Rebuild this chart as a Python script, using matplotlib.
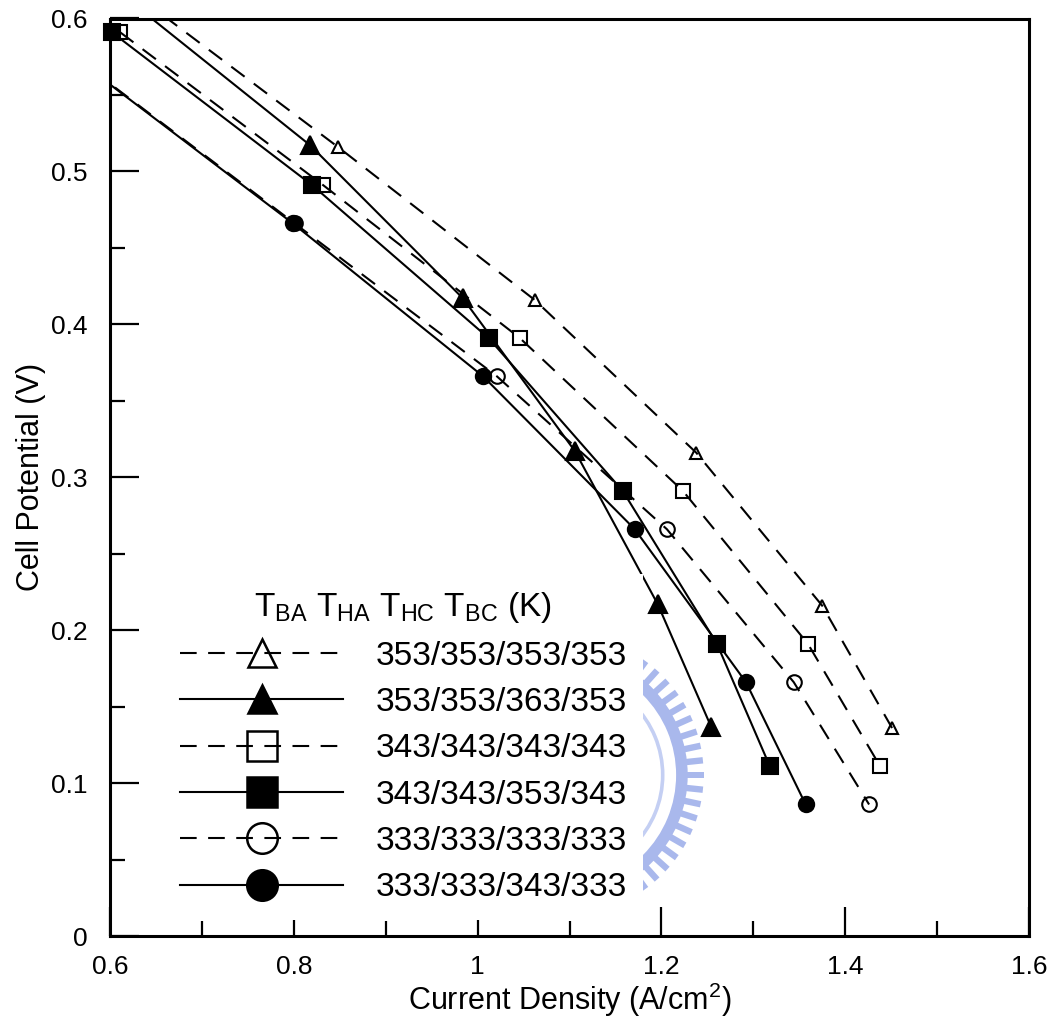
import numpy as np
import matplotlib
matplotlib.use("Agg")
import matplotlib.pyplot as plt
from matplotlib.lines import Line2D
from matplotlib.patches import Wedge, Rectangle
from matplotlib.ticker import MultipleLocator, FuncFormatter
import matplotlib.transforms as mtransforms

plt.rcParams["font.family"] = ["Liberation Sans", "DejaVu Sans"]
plt.rcParams["mathtext.fontset"] = "custom"
plt.rcParams["mathtext.rm"] = "Liberation Sans"
plt.rcParams["mathtext.it"] = "Liberation Sans:italic"
plt.rcParams["mathtext.bf"] = "Liberation Sans:bold"

# Operating temperatures T_BA/T_HA/T_HC/T_BC (K)
labels = [
    "353/353/353/353",
    "353/353/363/353",
    "343/343/343/343",
    "343/343/353/343",
    "333/333/333/333",
    "333/333/343/333",
]

# Polarization data: current density (A/cm2) vs cell potential (V)
j_353_353 = [0.627, 0.848, 1.062, 1.238, 1.375, 1.451]
v_353_353 = [0.616, 0.516, 0.416, 0.316, 0.216, 0.136]

j_353_363 = [0.610, 0.818, 0.984, 1.106, 1.196, 1.254]
v_353_363 = [0.617, 0.517, 0.417, 0.317, 0.217, 0.137]

j_343_343 = [0.611, 0.832, 1.046, 1.2235, 1.3595, 1.438]
v_343_343 = [0.591, 0.491, 0.391, 0.291, 0.191, 0.111]

j_343_353 = [0.602, 0.820, 1.012, 1.158, 1.2605, 1.318]
v_343_353 = [0.591, 0.491, 0.391, 0.291, 0.191, 0.111]

j_333_333 = [0.581, 0.801, 1.021, 1.206, 1.344, 1.426]
v_333_333 = [0.566, 0.466, 0.366, 0.266, 0.166, 0.086]

j_333_343 = [0.580, 0.799, 1.006, 1.171, 1.292, 1.357]
v_333_343 = [0.566, 0.466, 0.366, 0.266, 0.166, 0.086]

series = [
    (j_353_353, v_353_353, "dash", "^", "none", 8.5, 20),
    (j_353_363, v_353_363, "solid", "^", "black", 13.5, 20),
    (j_343_343, v_343_343, "dash", "s", "none", 10, 21),
    (j_343_353, v_343_353, "solid", "s", "black", 11, 21),
    (j_333_333, v_333_333, "dash", "o", "none", 10.5, 22),
    (j_333_343, v_333_343, "solid", "o", "black", 11, 22),
]

XMIN, XMAX, YMIN, YMAX = 0.6, 1.6, 0.0, 0.6
DASH = (0, (8, 5.5))
LW = 1.5

fig = plt.figure(figsize=(10.52, 10.26), dpi=100)

# faint emblem behind the legend
wax = fig.add_axes([418 / 1052, 1 - 920 / 1026, 290 / 1052, 290 / 1026], zorder=0)
wax.set_xlim(-1, 1)
wax.set_ylim(-1, 1)
wax.set_aspect("equal")
wax.axis("off")
emblem = "#a9b8ec"
wax.add_patch(Wedge((0, 0), 0.86, 0, 360, width=0.08, color=emblem, lw=0))
wax.add_patch(Wedge((0, 0), 0.70, 0, 360, width=0.025, color="#c4cff3", lw=0))
wax.add_patch(Wedge((0, 0), 0.55, 0, 360, width=0.10, color="#b8c5f0", lw=0))
for ang in np.arange(0, 360, 6.0):
    t = mtransforms.Affine2D().rotate_deg(ang) + wax.transData
    wax.add_patch(Rectangle((0.85, -0.022), 0.12, 0.044, color=emblem, lw=0, transform=t))

ax = fig.add_axes([110 / 1052, 1 - 936 / 1026, 919 / 1052, (936 - 18.5) / 1026], zorder=1)
ax.set_facecolor("none")

for j, v, ls, mk, fc, ms, _ in series:
    j = np.asarray(j)
    v = np.asarray(v)
    ax.plot(j, v, color="black", lw=LW, linestyle=DASH if ls == "dash" else "-",
            clip_on=True, zorder=2)
    inside = (v <= YMAX) & (j >= XMIN)
    ax.plot(j[inside], v[inside], linestyle="none", marker=mk, ms=ms,
            markerfacecolor=fc, markeredgecolor="black", markeredgewidth=1.5,
            clip_on=False, zorder=3)

ax.set_xlim(XMIN, XMAX)
ax.set_ylim(YMIN, YMAX)

fmt = FuncFormatter(lambda val, pos: f"{val:g}")
ax.xaxis.set_major_locator(MultipleLocator(0.2))
ax.xaxis.set_minor_locator(MultipleLocator(0.1))
ax.yaxis.set_major_locator(MultipleLocator(0.1))
ax.yaxis.set_minor_locator(MultipleLocator(0.05))
ax.xaxis.set_major_formatter(fmt)
ax.yaxis.set_major_formatter(fmt)

ax.tick_params(which="both", direction="in", top=False, right=False, width=1.6)
ax.tick_params(which="major", length=21, labelsize=19)
ax.tick_params(which="minor", length=11)
ax.tick_params(axis="x", which="major", pad=14)
ax.tick_params(axis="y", which="major", pad=16)
for sp in ax.spines.values():
    sp.set_linewidth(2.2)

ax.set_xlabel(r"Current Density (A/cm$^{2}$)", fontsize=22, labelpad=1)
ax.set_ylabel("Cell Potential (V)", fontsize=22, labelpad=4)

handles = []
for j, v, ls, mk, fc, ms, lms in series:
    handles.append(Line2D([], [], color="black", lw=LW,
                          linestyle=DASH if ls == "dash" else "-",
                          marker=mk, ms=lms, markerfacecolor=fc,
                          markeredgecolor="black", markeredgewidth=1.8))

title = r"T$_{\mathrm{BA}}$ T$_{\mathrm{HA}}$ T$_{\mathrm{HC}}$ T$_{\mathrm{BC}}$ (K)"
leg = ax.legend(handles, labels, loc="upper left", bbox_to_anchor=(0.058, 0.395),
                fontsize=24, title=title, title_fontsize=24, frameon=True,
                handlelength=4.9, handletextpad=0.96, labelspacing=0.46,
                borderpad=0.5, borderaxespad=0, fancybox=False)
leg.get_frame().set_facecolor("white")
leg.get_frame().set_edgecolor("none")
leg.get_frame().set_alpha(1.0)
leg.set_zorder(5)

fig.savefig("out.png", dpi=100)
